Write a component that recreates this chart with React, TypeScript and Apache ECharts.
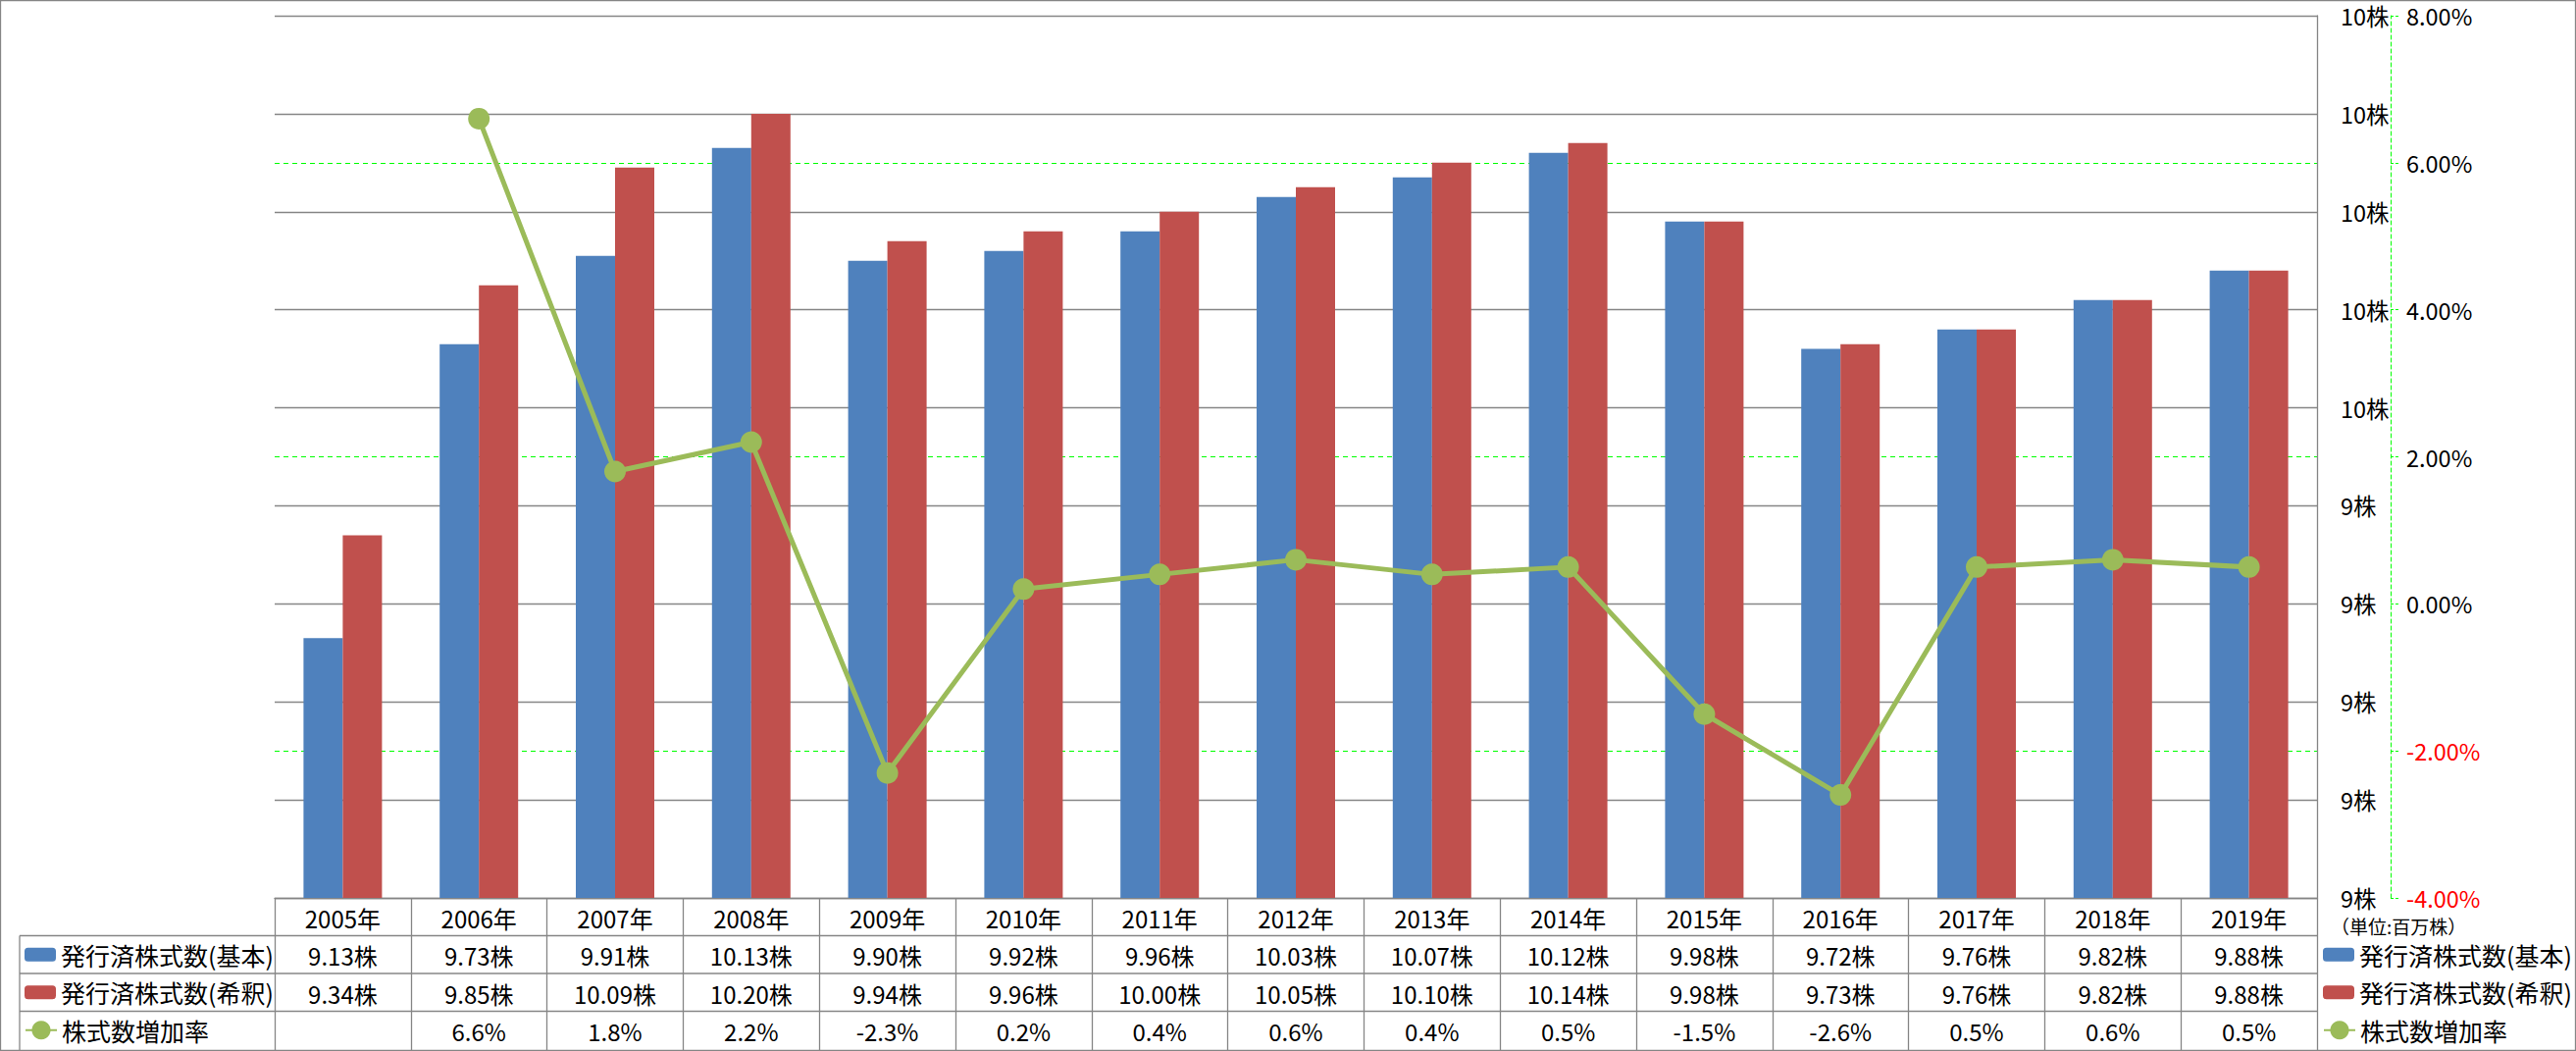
import React, { useEffect, useRef } from "react";
import * as echarts from "echarts";

const years = ["2005年", "2006年", "2007年", "2008年", "2009年", "2010年", "2011年", "2012年", "2013年", "2014年", "2015年", "2016年", "2017年", "2018年", "2019年"];
const basicShares = [9.13, 9.73, 9.91, 10.13, 9.9, 9.92, 9.96, 10.03, 10.07, 10.12, 9.98, 9.72, 9.76, 9.82, 9.88];
const dilutedShares = [9.34, 9.85, 10.09, 10.2, 9.94, 9.96, 10.0, 10.05, 10.1, 10.14, 9.98, 9.73, 9.76, 9.82, 9.88];
const growthRate: (number | null)[] = [null, 6.6, 1.8, 2.2, -2.3, 0.2, 0.4, 0.6, 0.4, 0.5, -1.5, -2.6, 0.5, 0.6, 0.5];

const seriesNames = ["発行済株式数(基本)", "発行済株式数(希釈)", "株式数増加率"];
const unitLabel = "（単位:百万株）";

const FONT = "'Noto Sans CJK JP', 'Noto Sans', sans-serif";
const GRAY = "#868686";
const GREEN_DASH = "#00FF00";

export default function App() {
  const ref = useRef<HTMLDivElement>(null);

  useEffect(() => {
    if (!ref.current) return;
    const chart = echarts.init(ref.current, undefined, { renderer: "svg" });

    const W = 2626;
    const H = 1071;
    const gl = 280;
    const gr = 2362;
    const gt = 16;
    const gb = 915;
    const rowH = 38.5;
    const tableLeft = 20;

    const fmtShares = (v: number) => v.toFixed(2) + "株";
    const fmtRate = (v: number | null) => (v == null ? "" : v.toFixed(1) + "%");

    const legendText = { fontSize: 25, lineHeight: 26, color: "#000", fontFamily: FONT };
    const rowCenter = (k: number) => gb + rowH * (k + 0.5);

    const barLegend = (left: number) => ({
      orient: "vertical",
      left,
      top: rowCenter(1) - 13,
      padding: 0,
      itemWidth: 32,
      itemHeight: 14,
      itemGap: rowH - 26,
      textStyle: legendText,
      data: [seriesNames[0], seriesNames[1]],
    });
    const lineLegend = (left: number) => ({
      orient: "vertical",
      left,
      top: rowCenter(3) - 13,
      padding: 0,
      itemWidth: 32,
      itemHeight: 24,
      textStyle: legendText,
      data: [seriesNames[2]],
    });

    const option: any = {
      animation: false,
      backgroundColor: "#ffffff",
      textStyle: { fontFamily: FONT },
      grid: { left: gl, right: W - gr, top: gt, bottom: H - gb, containLabel: false },
      legend: [barLegend(25), lineLegend(25), barLegend(2368), lineLegend(2368)],
      xAxis: {
        type: "category",
        data: years,
        axisLine: { show: true, onZero: false, lineStyle: { color: GRAY, width: 1.3 } },
        axisTick: { show: true, length: H - gb - 1, interval: 0, alignWithLabel: false, lineStyle: { color: GRAY, width: 1.3 } },
        axisLabel: {
          interval: 0,
          margin: 1,
          verticalAlign: "top",
          fontSize: 24,
          lineHeight: rowH,
          color: "#000",
          fontFamily: FONT,
          formatter: (value: string, idx: number) =>
            [value, fmtShares(basicShares[idx]), fmtShares(dilutedShares[idx]), fmtRate(growthRate[idx])].join("\n"),
        },
      },
      yAxis: [
        {
          type: "value",
          position: "right",
          min: 8.6,
          max: 10.4,
          interval: 0.2,
          z: 1,
          axisLine: { show: true, lineStyle: { color: GRAY, width: 1.3 } },
          axisTick: { show: false },
          splitLine: { show: true, lineStyle: { color: GRAY, width: 1.3 } },
          axisLabel: {
            margin: 24,
            fontSize: 23.5,
            lineHeight: 24,
            color: "#000",
            fontFamily: FONT,
            formatter: (v: number) => Math.round(v) + "株",
          },
        },
        {
          type: "value",
          position: "right",
          offset: 75,
          min: -4,
          max: 8,
          interval: 2,
          z: 0,
          axisLine: { show: true, lineStyle: { color: GREEN_DASH, width: 1, type: [4, 3] } },
          axisTick: { show: true, length: 8, lineStyle: { color: GREEN_DASH, width: 1, type: [3, 2] } },
          splitLine: { show: true, lineStyle: { color: GREEN_DASH, width: 1, type: [5, 4] } },
          axisLabel: {
            margin: 16,
            fontSize: 23.5,
            lineHeight: 24,
            fontFamily: FONT,
            color: (v: any) => (Number(v) < 0 ? "#FF0000" : "#000000"),
            formatter: (v: number) => v.toFixed(2) + "%",
          },
        },
      ],
      series: [
        {
          name: seriesNames[0],
          type: "bar",
          yAxisIndex: 0,
          data: basicShares,
          barWidth: 40,
          barGap: "0%",
          itemStyle: { color: "#4F81BD" },
          z: 2,
        },
        {
          name: seriesNames[1],
          type: "bar",
          yAxisIndex: 0,
          data: dilutedShares,
          barWidth: 40,
          barGap: "0%",
          itemStyle: { color: "#C0504D" },
          z: 2,
        },
        {
          name: seriesNames[2],
          type: "line",
          yAxisIndex: 1,
          data: growthRate,
          symbol: "circle",
          symbolSize: 22,
          lineStyle: { color: "#9BBB59", width: 5 },
          itemStyle: { color: "#9BBB59" },
          z: 5,
        },
      ],
      graphic: [
        {
          type: "rect",
          shape: { x: 0.5, y: 0.5, width: W - 1, height: H - 1 },
          style: { fill: "none", stroke: GRAY, lineWidth: 1.3 },
          silent: true,
        },
        ...[1, 2, 3].map((k) => ({
          type: "line",
          shape: { x1: tableLeft, y1: gb + k * rowH, x2: gr, y2: gb + k * rowH },
          style: { stroke: GRAY, lineWidth: 1.3 },
          silent: true,
        })),
        {
          type: "line",
          shape: { x1: tableLeft, y1: gb + rowH, x2: tableLeft, y2: H - 1 },
          style: { stroke: GRAY, lineWidth: 1.3 },
          silent: true,
        },
        {
          type: "text",
          left: 2376,
          top: 934,
          style: { text: unitLabel, fontSize: 19, fill: "#000", fontFamily: FONT },
          silent: true,
        },
      ],
    };

    chart.setOption(option);
    return () => chart.dispose();
  }, []);

  return (
    <div
      ref={ref}
      style={{ position: "absolute", left: 0, top: 0, width: 2626, height: 1071, background: "#fff" }}
    />
  );
}
